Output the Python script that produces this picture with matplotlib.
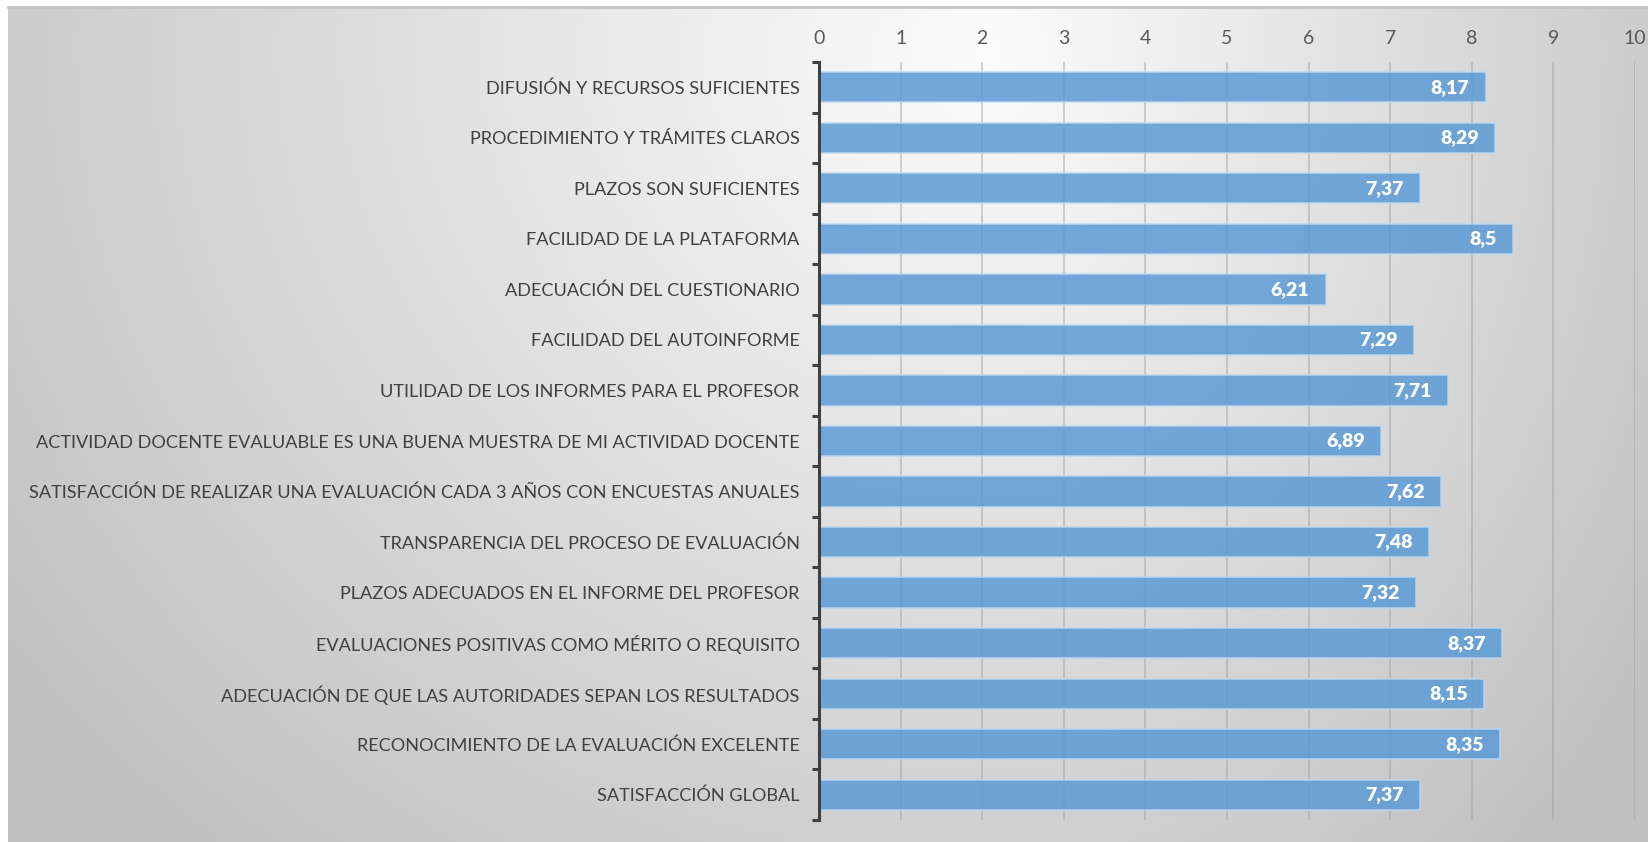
import numpy as np
import matplotlib
matplotlib.use('Agg')
import matplotlib.pyplot as plt
from matplotlib.lines import Line2D

categories = [
    'DIFUSIÓN Y RECURSOS SUFICIENTES',
    'PROCEDIMIENTO Y TRÁMITES CLAROS',
    'PLAZOS SON SUFICIENTES',
    'FACILIDAD DE LA PLATAFORMA',
    'ADECUACIÓN DEL CUESTIONARIO',
    'FACILIDAD DEL AUTOINFORME',
    'UTILIDAD DE LOS INFORMES PARA EL PROFESOR',
    'ACTIVIDAD DOCENTE EVALUABLE ES UNA BUENA MUESTRA DE MI ACTIVIDAD DOCENTE',
    'SATISFACCIÓN DE REALIZAR UNA EVALUACIÓN CADA 3 AÑOS CON ENCUESTAS ANUALES',
    'TRANSPARENCIA DEL PROCESO DE EVALUACIÓN',
    'PLAZOS ADECUADOS EN EL INFORME DEL PROFESOR',
    'EVALUACIONES POSITIVAS COMO MÉRITO O REQUISITO',
    'ADECUACIÓN DE QUE LAS AUTORIDADES SEPAN LOS RESULTADOS',
    'RECONOCIMIENTO DE LA EVALUACIÓN EXCELENTE',
    'SATISFACCIÓN GLOBAL',
]
scores = [8.17, 8.29, 7.37, 8.5, 6.21, 7.29, 7.71, 6.89, 7.62, 7.48, 7.32, 8.37, 8.15, 8.35, 7.37]
x_ticks = list(range(0, 11))

plt.rcParams['font.family'] = ['Lato', 'DejaVu Sans']

W, H = 1649, 842
fig = plt.figure(figsize=(W / 100, H / 100), dpi=100)
fig.patch.set_facecolor('white')

# background gradient (light in the upper middle, gray towards the edges)
bg = fig.add_axes([8 / W, 0, 1 - 8 / W, 1 - 8 / H])
bg.set_axis_off()
gx, gy = np.meshgrid(np.linspace(0, 1, 400), np.linspace(0, 1, 200))
cx, cy = 0.6, 0.05
rx = np.where(gx < cx, 0.75, 0.5)
r = np.sqrt(((gx - cx) / rx) ** 2 + ((gy - cy) / 1.3) ** 2)
val = np.clip(252 - 60 * r, 192, 252) / 255
bg.imshow(np.dstack([val, val, val]), aspect='auto', extent=[0, 1, 1, 0])
bg.set_xlim(0, 1)
bg.set_ylim(1, 0)
fig.add_artist(Line2D([8 / W, 1], [1 - 7 / H, 1 - 7 / H], color='#c4c4c4', lw=2))

ax = fig.add_axes([819 / W, 1 - 820 / H, (1635 - 819) / W, (820 - 62) / H])
ax.set_facecolor('none')
y = np.arange(len(categories))
ax.barh(y, scores, height=0.6, color='#5b9bd5', alpha=0.85,
        edgecolor='#bdd7ee', linewidth=1.2, zorder=3)
for yi, v in zip(y, scores):
    lab = f'{v:g}'.replace('.', ',')
    ax.text(v - 0.2, yi, lab, ha='right', va='center', color='white',
            fontsize=14, fontweight='heavy', zorder=4)

ax.set_xlim(0, 10)
ax.set_ylim(len(categories) - 0.5, -0.5)
ax.set_xticks(x_ticks)
ax.xaxis.tick_top()
ax.tick_params(axis='x', length=0, pad=11, labelsize=14, labelcolor='#595959')
ax.set_yticks(y)
ax.set_yticklabels(categories)
ax.tick_params(axis='y', which='major', length=0, pad=14, labelsize=13.1, labelcolor='#404040')
ax.set_yticks(np.arange(-0.5, len(categories), 1), minor=True)
ax.tick_params(axis='y', which='minor', length=5, width=2.2, color='#404040')
ax.grid(axis='x', color='#a0a0a0', alpha=0.55, lw=1.2, zorder=0)
for s in ['top', 'right', 'bottom']:
    ax.spines[s].set_visible(False)
ax.spines['left'].set_color('#404040')
ax.spines['left'].set_linewidth(2.2)
ax.spines['left'].set_zorder(5)

fig.savefig('out.png', dpi=100)
